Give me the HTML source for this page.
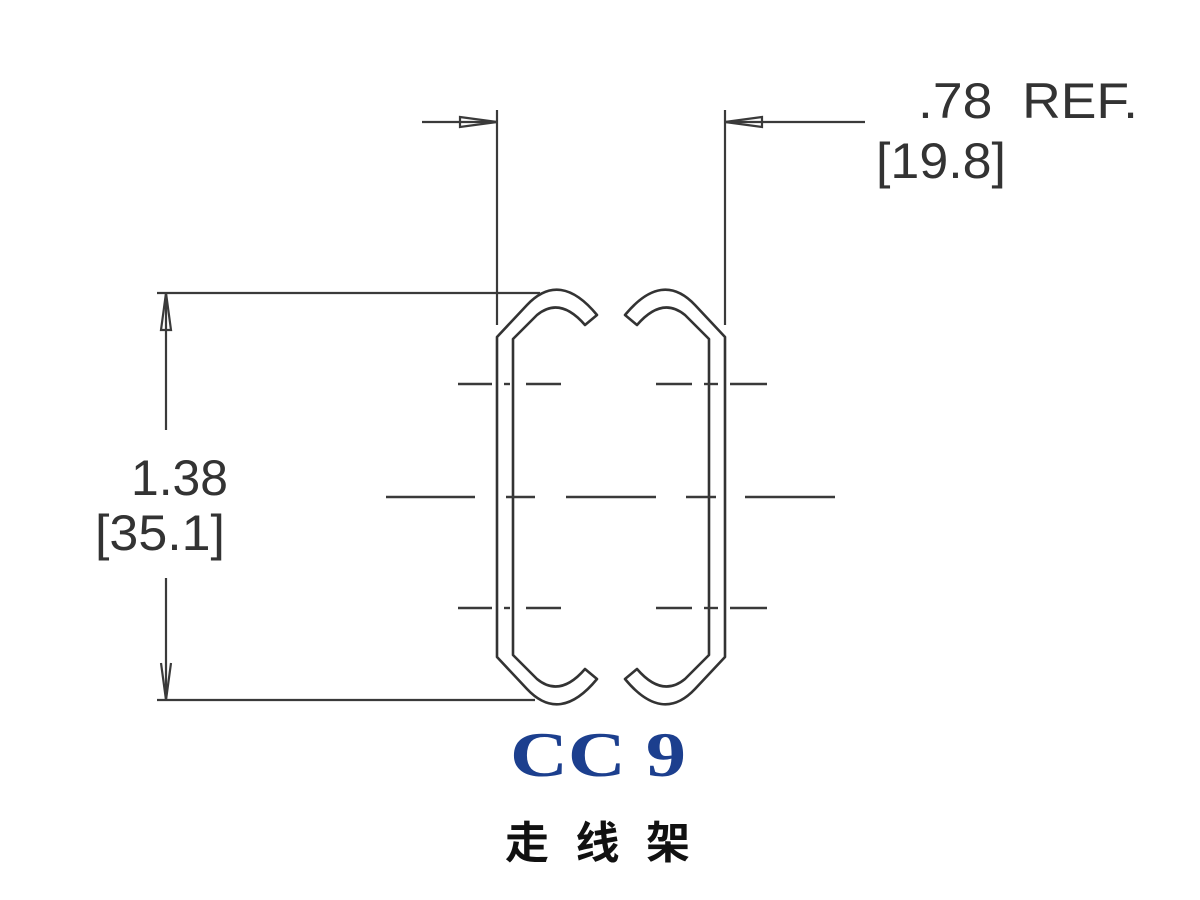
<!DOCTYPE html>
<html><head><meta charset="utf-8"><style>
html,body{margin:0;padding:0;background:#fff;}
svg{display:block}
</style></head><body>
<svg width="1200" height="900" viewBox="0 0 1200 900" xmlns="http://www.w3.org/2000/svg">
<g fill="none" stroke="#333" stroke-width="2.6" stroke-linejoin="round">
<path d="M597,315 Q560,270 527,305 L497,337 L497,657 L527,689 Q560,724 597,679 L585,669 Q560,698 537,679 L513,655 L513,339 L537,315 Q560,296 585,325 Z"/>
<path d="M625,315 Q662,270 695,305 L725,337 L725,657 L695,689 Q662,724 625,679 L637,669 Q662,698 685,679 L709,655 L709,339 L685,315 Q662,296 637,325 Z"/>
</g>
<g stroke="#3a3a3a" stroke-width="2.4">
<line x1="458" y1="384" x2="492" y2="384"/><line x1="504" y1="384" x2="510" y2="384"/><line x1="526" y1="384" x2="561" y2="384"/>
<line x1="656" y1="384" x2="692" y2="384"/><line x1="704" y1="384" x2="718" y2="384"/><line x1="730" y1="384" x2="767" y2="384"/>
<line x1="458" y1="608" x2="492" y2="608"/><line x1="504" y1="608" x2="510" y2="608"/><line x1="526" y1="608" x2="561" y2="608"/>
<line x1="656" y1="608" x2="692" y2="608"/><line x1="704" y1="608" x2="718" y2="608"/><line x1="730" y1="608" x2="767" y2="608"/>
<line x1="386" y1="497" x2="475" y2="497"/><line x1="506" y1="497" x2="535" y2="497"/><line x1="566" y1="497" x2="656" y2="497"/><line x1="686" y1="497" x2="716" y2="497"/><line x1="745" y1="497" x2="835" y2="497"/>
</g>
<g stroke="#3a3a3a" stroke-width="2.2" fill="none">
<line x1="497" y1="110" x2="497" y2="325"/>
<line x1="725" y1="110" x2="725" y2="325"/>
<line x1="422" y1="122" x2="497" y2="122"/>
<line x1="725" y1="122" x2="865" y2="122"/>
<path d="M460,117 L497,122 L460,127 Z"/>
<path d="M762,117 L725,122 L762,127 Z"/>
<line x1="157" y1="293" x2="540" y2="293"/>
<line x1="157" y1="700" x2="535" y2="700"/>
<line x1="166" y1="293" x2="166" y2="430"/>
<line x1="166" y1="578" x2="166" y2="700"/>
<path d="M161,330 L166,293 L171,330 Z"/>
<path d="M161,663 L166,700 L171,663"/>
</g>
<g font-family="Liberation Sans, sans-serif" fill="#333" font-size="50">
<text x="918" y="118" textLength="220" lengthAdjust="spacingAndGlyphs" xml:space="preserve">.78  REF.</text>
<text x="876" y="178" textLength="130" lengthAdjust="spacingAndGlyphs">[19.8]</text>
<text x="131" y="495" textLength="97" lengthAdjust="spacingAndGlyphs">1.38</text>
<text x="95" y="550" textLength="130" lengthAdjust="spacingAndGlyphs">[35.1]</text>
</g>
<text x="510" y="776" font-family="Liberation Serif, serif" font-weight="bold" font-size="64" fill="#1c3f8e" textLength="176" lengthAdjust="spacingAndGlyphs">CC 9</text>
<text x="505" y="858" font-family="Liberation Sans, 'Noto Sans CJK SC', sans-serif" font-weight="bold" font-size="44" fill="#111" textLength="185" lengthAdjust="spacing">走线架</text>
</svg>
</body></html>
